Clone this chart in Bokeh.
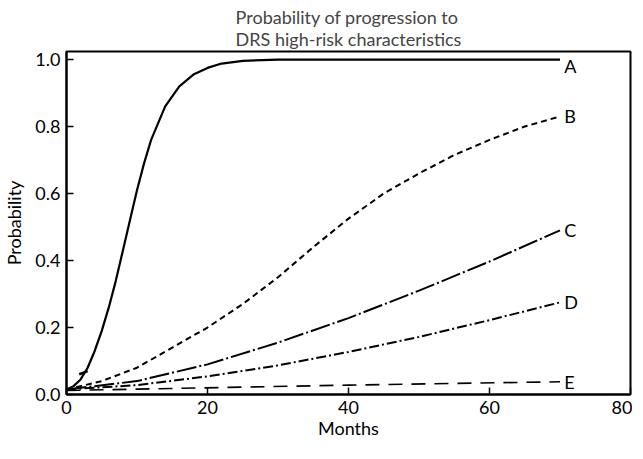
from bokeh.plotting import figure
from bokeh.embed import file_html
from bokeh.resources import INLINE
from bokeh.models import FixedTicker, Range1d
from bokeh.core.properties import value

FONT = "Lato"

# Data (months, probability)
months_a = [0, 1, 2, 3, 4, 5, 6, 7, 8, 9, 10, 11, 12, 13, 14, 16, 18, 20, 22, 25, 30, 40, 50, 60, 70]
prob_a = [0.015, 0.025, 0.045, 0.08, 0.13, 0.19, 0.26, 0.34, 0.43, 0.52, 0.61, 0.69, 0.76, 0.81, 0.86, 0.92, 0.955, 0.975, 0.988, 0.996, 1.0, 1.0, 1.0, 1.0, 1.0]

months_b = [0, 5, 10, 15, 20, 25, 30, 35, 40, 45, 50, 55, 60, 65, 70]
prob_b = [0.015, 0.04, 0.08, 0.14, 0.20, 0.27, 0.35, 0.44, 0.525, 0.60, 0.66, 0.715, 0.76, 0.80, 0.83]

months_c = [0, 10, 20, 30, 40, 50, 60, 70]
prob_c = [0.015, 0.04, 0.09, 0.155, 0.228, 0.31, 0.397, 0.49]

months_d = [0, 10, 20, 30, 40, 50, 60, 70]
prob_d = [0.015, 0.028, 0.054, 0.087, 0.127, 0.172, 0.222, 0.275]

months_e = [0, 10, 25, 40, 55, 70]
prob_e = [0.012, 0.016, 0.022, 0.028, 0.033, 0.038]

curve_labels = ["A", "B", "C", "D", "E"]
label_y = [0.98, 0.83, 0.49, 0.275, 0.038]

x_ticks = [0, 20, 40, 60, 80]
y_ticks = [0.0, 0.2, 0.4, 0.6, 0.8, 1.0]

p = figure(frame_width=564, frame_height=343, output_backend="svg", toolbar_location=None,
           x_range=Range1d(0, 80), y_range=Range1d(0, 1.024),
           min_border_left=61, min_border_right=2, min_border_top=51, min_border_bottom=49,
           title="Probability of progression to\nDRS high-risk characteristics")

p.title.align = "center"
p.title.text_font = FONT
p.title.text_font_size = "18px"
p.title.text_font_style = "normal"
p.title.standoff = 3

p.grid.visible = False
p.outline_line_color = "black"
p.outline_line_width = 2
p.background_fill_color = "white"
p.border_fill_color = "white"

for ax in (p.xaxis[0], p.yaxis[0]):
    ax.axis_line_width = 2
    ax.axis_line_color = "black"
    ax.major_tick_in = 7
    ax.major_tick_out = 0
    ax.major_tick_line_width = 1.5
    ax.minor_tick_line_color = None
    ax.major_label_text_font = FONT
    ax.major_label_text_font_size = "18px"
    ax.major_label_text_color = "black"
    ax.axis_label_text_font = FONT
    ax.axis_label_text_font_size = "18px"
    ax.axis_label_text_font_style = "normal"
    ax.axis_label_text_color = "black"

p.xaxis.ticker = FixedTicker(ticks=x_ticks)
p.yaxis.ticker = FixedTicker(ticks=y_ticks)
p.yaxis.major_label_overrides = {t: f"{t:.1f}" for t in y_ticks}
p.xaxis.major_label_overrides = {t: str(t) for t in x_ticks}
p.xaxis.axis_label = "Months"
p.yaxis.axis_label = "Probability"
p.xaxis.major_label_standoff = 6
p.xaxis.axis_label_standoff = 0
p.yaxis.major_label_standoff = 6
p.yaxis.axis_label_standoff = 7

p.line(months_a, prob_a, line_color="black", line_width=2.2)
p.line(months_b, prob_b, line_color="black", line_width=2, line_dash="6 4")
p.line(months_c, prob_c, line_color="black", line_width=2, line_dash="20 3 2 3")
p.line(months_d, prob_d, line_color="black", line_width=2, line_dash="10 3 2 3")
p.line(months_e, prob_e, line_color="black", line_width=1.6, line_dash="14 9")

# small tick mark on curve A
p.scatter([2.4], [0.065], marker="dash", size=9, angle=0.35, line_color="black", line_width=2.5)

p.text(x=[70.6] * 5, y=label_y, text=curve_labels, text_font=value(FONT),
       text_font_size="18px", text_baseline="middle", text_align="left", text_color="black")

open("out.html", "w").write(file_html(p, INLINE))
